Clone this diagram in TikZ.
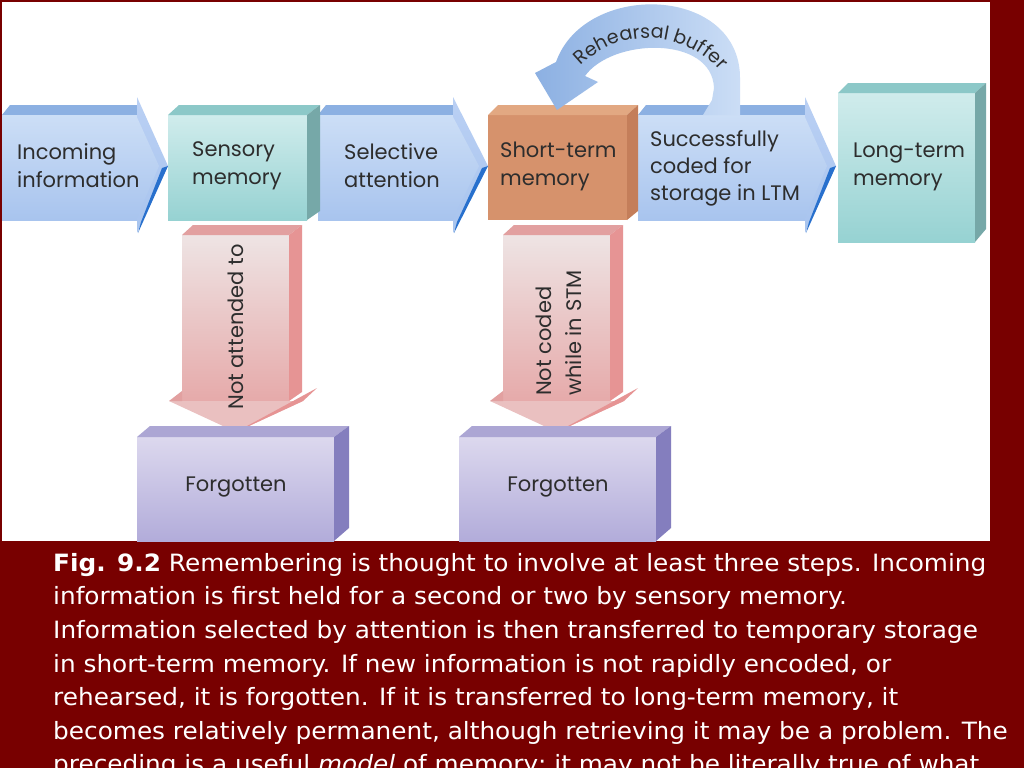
\documentclass[tikz,border=0pt]{standalone}
\usepackage{fontspec}
\setmainfont{DejaVu Sans}[FakeStretch=1.04]
\newfontfamily\boxfont{Poppins}
\usetikzlibrary{decorations.text}

\definecolor{slidered}{RGB}{120,0,0}
\definecolor{blueup}{RGB}{204,222,246}
\definecolor{bluedown}{RGB}{168,196,238}
\definecolor{stripblue}{RGB}{140,176,226}
\definecolor{headblue}{RGB}{186,208,244}
\definecolor{edgeblue}{RGB}{40,112,205}
\definecolor{tealup}{RGB}{208,236,236}
\definecolor{tealdown}{RGB}{150,210,210}
\definecolor{tealtop}{RGB}{140,200,200}
\definecolor{tealside}{RGB}{118,168,168}
\definecolor{stmfront}{RGB}{214,146,108}
\definecolor{stmtop}{RGB}{226,168,130}
\definecolor{stmside}{RGB}{196,126,90}
\definecolor{pinkup}{RGB}{238,228,228}
\definecolor{pinkdown}{RGB}{230,170,170}
\definecolor{pinkhead}{RGB}{234,192,192}
\definecolor{pinktop}{RGB}{226,160,160}
\definecolor{pinkside}{RGB}{230,148,148}
\definecolor{lilacup}{RGB}{220,216,238}
\definecolor{lilacdown}{RGB}{178,172,218}
\definecolor{lilactop}{RGB}{172,166,212}
\definecolor{lilacside}{RGB}{132,126,190}
\definecolor{inktext}{RGB}{45,45,45}

\begin{document}
\begin{tikzpicture}[x=1pt,y=-1pt,
    boxtext/.style={font=\boxfont\fontsize{21}{28}\selectfont,align=left,inner sep=0pt,text=inktext},
    captext/.style={font=\fontsize{23.8}{33.6}\selectfont,align=left,inner sep=0pt,text=white,anchor=north west},
    bluebody/.style={top color=blueup,bottom color=bluedown},
    tealbody/.style={top color=tealup,bottom color=tealdown},
    pinkbody/.style={top color=pinkup,bottom color=pinkdown},
    lilacbody/.style={top color=lilacup,bottom color=lilacdown}]
	% Hintergrund
	\fill[slidered] (0,0) rectangle (1024,768);
	\fill[white] (2,2) rectangle (990,541);
	\useasboundingbox (0,0) rectangle (1024,768);
	% blaue Pfeile
	\foreach \xa/\xb/\xc in {2/137/168, 318/453/488, 638/805/836} {
		\fill[stripblue] (\xa,115) -- (\xa+8,105) -- (\xb,105) -- (\xb,115) -- cycle;
		\shade[bluebody] (\xa,115) rectangle (\xb,220);
		\shade[top color=headblue,bottom color=bluedown] (\xb,97) -- (\xc,166) -- (\xb,233) -- cycle;
		\fill[edgeblue] (\xc,166) -- (\xb+1,233) -- (\xb+4,222) -- (\xc-6,168) -- cycle;
		\shade[bluebody] (\xb-1,115) -- (\xc-9,166) -- (\xb-1,220) -- cycle;
	}
	% Kaesten oben
	\shade[tealbody] (168,115) rectangle (307,220);
	\fill[tealtop] (168,115) -- (179,105) -- (320,105) -- (307,115) -- cycle;
	\fill[tealside] (307,115) -- (320,105) -- (320,211) -- (307,220) -- cycle;
	\fill[stmfront] (488,115) rectangle (627,220);
	\fill[stmtop] (488,115) -- (498,105) -- (638,105) -- (627,115) -- cycle;
	\fill[stmside] (627,115) -- (638,105) -- (638,211) -- (627,220) -- cycle;
	\shade[tealbody] (838,93) rectangle (975,242);
	\fill[tealtop] (838,93) -- (848,83) -- (986,83) -- (975,93) -- cycle;
	\fill[tealside] (975,93) -- (986,83) -- (986,229) -- (975,242) -- cycle;
	% Rehearsal-Bogen
	\shade[left color=stripblue,right color=blueup] (740,115) -- (740,80)
		.. controls (742,-15) and (585,-20) .. (556,62) -- (535,73) -- (557,110)
		-- (598,82) -- (585,76) .. controls (612,38) and (712,35) .. (714,88)
		-- (712,100) -- (703,115) -- cycle;
	\path[decorate,decoration={text along path,text align=center,
		text={|\boxfont\fontsize{19}{19}\selectfont\color{inktext}|Rehearsal buffer}}]
		(648,133) ++(222:95) arc[start angle=222,end angle=322,radius=95];
	% Pfeile nach unten und Forgotten
	\foreach \xa/\xf [count=\i] in {182/137, 503/459} {
		\shade[pinkbody] (\xa,235) rectangle (\xa+107,401);
		\fill[pinktop] (\xa,235) -- (\xa+11,225) -- (\xa+120,225) -- (\xa+107,235) -- cycle;
		\fill[pinkside] (\xa+107,235) -- (\xa+120,225) -- (\xa+120,392) -- (\xa+107,401) -- cycle;
		\fill[pinkhead] (\xa-13,401) -- (\xa+121,401) -- (\xa+54,432) -- cycle;
		\fill[pinkside] (\xa+121,401) -- (\xa+135,388) -- (\xa+54,432) -- cycle;
		\fill[pinktop] (\xa-13,401) -- (\xa,391) -- (\xa,401) -- cycle;
		\shade[lilacbody] (\xf,437) rectangle (\xf+197,541);
		\fill[lilactop] (\xf,437) -- (\xf+13,426) -- (\xf+212,426) -- (\xf+197,437) -- cycle;
		\fill[lilacside] (\xf+197,437) -- (\xf+212,426) -- (\xf+212,528) -- (\xf+197,541) -- cycle;
		\node[boxtext] (forgotten\i) at (\xf+99,487) {Forgotten};
	}
	% Beschriftung
	\node[boxtext,anchor=west] (incoming) at (17,166) {Incoming\\information};
	\node[boxtext,anchor=west] (sensory) at (192,166) {Sensory\\memory};
	\node[boxtext,anchor=west] (selective) at (344,166) {Selective\\attention};
	\node[boxtext,anchor=west] (shortterm) at (500,166) {Short-term\\memory};
	\node[boxtext,anchor=west,font=\boxfont\fontsize{21}{27}\selectfont] (coded) at (650,168) {Successfully\\coded for\\storage in LTM};
	\node[boxtext,anchor=west] (longterm) at (853,167) {Long-term\\memory};
	\node[boxtext,rotate=90] (notattended) at (236,327) {Not attended to};
	\node[boxtext,rotate=90,anchor=west,font=\boxfont\fontsize{21}{30}\selectfont] (notcoded) at (559,396) {Not coded\\while in STM};
	% Bildunterschrift
	\node[captext] (caption) at (53,553) {\textbf{Fig. 9.2} Remembering is thought to involve at least three steps. Incoming\\
		information is first held for a second or two by sensory memory.\\
		Information selected by attention is then transferred to temporary storage\\
		in short-term memory. If new information is not rapidly encoded, or\\
		rehearsed, it is forgotten. If it is transferred to long-term memory, it\\
		becomes relatively permanent, although retrieving it may be a problem. The\\
		preceding is a useful \textit{model} of memory; it may not be literally true of what};
\end{tikzpicture}
\end{document}
